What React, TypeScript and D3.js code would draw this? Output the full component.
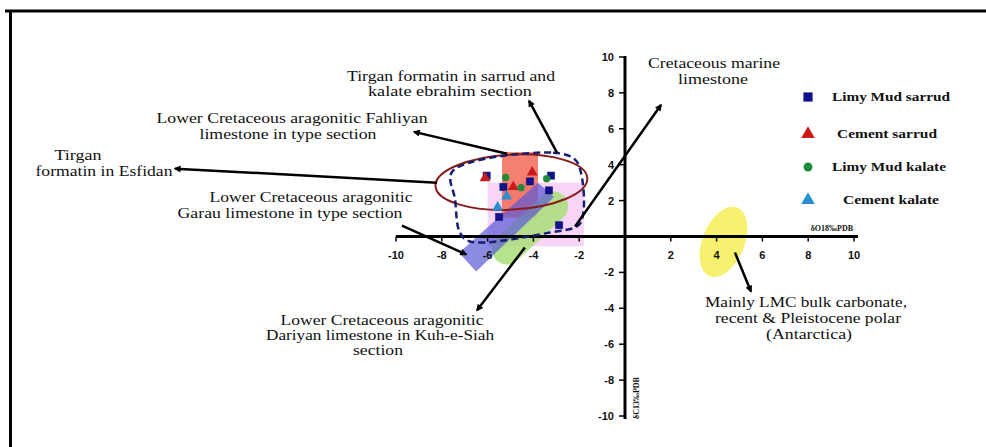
import React from "react";
import * as d3 from "d3";

const W = 986;
const H = 447;

// tick values
const xTicks = [-10, -8, -6, -4, -2, 2, 4, 6, 8, 10];
const yTicks = [-10, -8, -6, -4, -2, 2, 4, 6, 8, 10];

// series (δO18, δC13)
const limyMudSarrud: [number, number][] = [
  [-6.04, 3.39], [-3.23, 3.39], [-4.15, 3.07], [-5.31, 2.76], [-3.32, 2.57], [-5.5, 1.09], [-2.88, 0.63],
];
const cementSarrud: [number, number][] = [[-6.11, 3.26], [-4.05, 3.57], [-4.88, 2.76]];
const limyMudKalate: [number, number][] = [[-5.21, 3.29], [-4.54, 2.72], [-3.42, 3.22]];
const cementKalate: [number, number][] = [[-5.17, 2.24], [-5.56, 1.63]];

const legendItems = [
  { label: "Limy Mud sarrud", shape: "square", color: "#12128f", len: 118 },
  { label: "Cement sarrud", shape: "triangle", color: "#cc1a1a", len: 100 },
  { label: "Limy Mud kalate", shape: "circle", color: "#1f8a3a", len: 114 },
  { label: "Cement kalate", shape: "triangle", color: "#2a8fd0", len: 96 },
];

// field regions (data units)
const fahliyanRect = { x0: -5.37, x1: -3.8, y0: 1.05, y1: 4.7 };
const pinkRect = { x0: -6.0, x1: -1.8, y0: -0.55, y1: 3.0 };
const garauBand: [number, number][] = [[-3.8, 3.0], [-3.1, 2.2], [-6.5, -1.95], [-7.25, -0.9]];
const dariyanBand: [number, number][] = [[-5.15, -0.72], [-3.14, 1.67]];
const tirganDashed: [number, number][] = [
  [-7.55, 3.61], [-3.14, 4.67], [-2.18, 4.28], [-1.88, 3.28], [-1.83, 1.22], [-2.05, 0.61],
  [-3.28, 0.22], [-6.77, -0.28], [-7.21, 0.22], [-7.42, 2.06],
];
const esfidanEllipse = { cx: -4.96, cy: 3.03 };
const antarcticEllipse = { cx: 4.3, cy: -0.3 };

// annotation arrows [from, to] (arrowhead at "to")
const arrows: [number, number, number, number][] = [
  [-2.97, 4.67, -4.19, 7.56],
  [-5.15, 4.61, -9.21, 5.83],
  [-8.21, 3.0, -19.65, 3.78],
  [-9.74, 0.61, -6.94, -1.0],
  [-4.37, -0.61, -6.46, -4.11],
  [-2.18, 0.56, 1.57, 7.33],
  [4.8, -0.89, 5.5, -3.06],
];

// annotation text lines: [text, x center(px), y center(px), width]
const notes: [string, number, number, number][] = [
  ["Tirgan formatin in sarrud and", 451, 76, 208],
  ["kalate  ebrahim section", 450, 91, 164],
  ["Lower Cretaceous aragonitic Fahliyan", 292, 118, 271],
  ["limestone in type section", 288, 134, 177],
  ["Tirgan", 78, 155, 47],
  ["formatin in Esfidan", 104, 171, 137],
  ["Lower Cretaceous aragonitic", 311, 197, 203],
  ["Garau limestone in type section", 290, 213, 225],
  ["Cretaceous marine", 714, 63, 132],
  ["limestone", 713, 79, 70],
  ["Lower Cretaceous aragonitic", 382, 320, 203],
  ["Dariyan limestone in Kuh-e-Siah", 380, 335, 228],
  ["section", 378, 350, 50],
  ["Mainly LMC bulk carbonate,", 806, 302, 202],
  ["recent & Pleistocene polar", 808, 318, 186],
  ["(Antarctica)", 809, 334, 86],
];

export default function App() {
  const x = d3.scaleLinear().domain([-10, 10]).range([396, 854]);
  const y = d3.scaleLinear().domain([-10, 10]).range([416, 57]);
  const x0 = x(0);
  const y0 = y(0);

  const tri = d3.symbol().type(d3.symbolTriangle).size(52)() as string;
  const sq = d3.symbol().type(d3.symbolSquare).size(52)() as string;
  const circ = d3.symbol().type(d3.symbolCircle).size(42)() as string;
  const triL = d3.symbol().type(d3.symbolTriangle).size(80)() as string;
  const sqL = d3.symbol().type(d3.symbolSquare).size(85)() as string;
  const circL = d3.symbol().type(d3.symbolCircle).size(62)() as string;

  const poly = (pts: [number, number][]) =>
    d3.line<[number, number]>().x((d) => x(d[0])).y((d) => y(d[1])).curve(d3.curveLinearClosed)(pts) as string;
  const dashedPath = d3
    .line<[number, number]>()
    .x((d) => x(d[0]))
    .y((d) => y(d[1]))
    .curve(d3.curveCatmullRomClosed.alpha(0.5))(tirganDashed) as string;

  const serif = "'Liberation Serif', 'Times New Roman', serif";
  const sans = "'Liberation Sans', Arial, sans-serif";

  const markerFor = (shape: string, large: boolean) =>
    shape === "square" ? (large ? sqL : sq) : shape === "circle" ? (large ? circL : circ) : large ? triL : tri;

  return (
    <svg width={W} height={H} style={{ position: "absolute", left: 0, top: 0, background: "#fff" }}>
      <defs>
        <marker id="ah" viewBox="0 0 10 10" refX="8" refY="5" markerWidth="3.6" markerHeight="2.8" orient="auto" markerUnits="strokeWidth">
          <path d="M0,0 L10,5 L0,10 Z" fill="#000" />
        </marker>
      </defs>
      <rect x={0} y={0} width={W} height={H} fill="#fff" />
      {/* frame */}
      <line x1={5} x2={W} y1={11} y2={11} stroke="#000" strokeWidth={3} />
      <line x1={10.5} x2={10.5} y1={10} y2={H} stroke="#000" strokeWidth={3} />

      {/* fields */}
      <rect
        x={x(pinkRect.x0)} y={y(pinkRect.y1)}
        width={x(pinkRect.x1) - x(pinkRect.x0)} height={y(pinkRect.y0) - y(pinkRect.y1)}
        fill="#f3b8f0" opacity={0.6}
      />
      <rect
        x={x(fahliyanRect.x0)} y={y(fahliyanRect.y1)}
        width={x(fahliyanRect.x1) - x(fahliyanRect.x0)} height={y(fahliyanRect.y0) - y(fahliyanRect.y1)}
        fill="#f26a58" opacity={0.85}
      />
      <line
        x1={x(dariyanBand[0][0])} y1={y(dariyanBand[0][1])}
        x2={x(dariyanBand[1][0])} y2={y(dariyanBand[1][1])}
        stroke="#a9e07a" strokeWidth={30} strokeLinecap="round" opacity={0.85}
      />
      <path d={poly(garauBand)} fill="#5a5ad6" opacity={0.7} />
      <ellipse
        cx={x(antarcticEllipse.cx)} cy={y(antarcticEllipse.cy)} rx={21} ry={37}
        transform={`rotate(22 ${x(antarcticEllipse.cx)} ${y(antarcticEllipse.cy)})`}
        fill="#f4ee55" opacity={0.85}
      />

      {/* axes */}
      <line x1={x(-10)} x2={x(10) + 4} y1={y0} y2={y0} stroke="#000" strokeWidth={3} />
      <line x1={x0} x2={x0} y1={y(10) - 1} y2={y(-10) + 3} stroke="#000" strokeWidth={3} />
      {xTicks.map((t) => (
        <g key={"xt" + t}>
          <line x1={x(t)} x2={x(t)} y1={y0} y2={y0 + 5} stroke="#000" strokeWidth={1.5} />
          <text x={x(t)} y={y0 + 22} textAnchor="middle" fontFamily={sans} fontWeight="bold" fontSize={11} fill="#111">
            {t}
          </text>
        </g>
      ))}
      {yTicks.map((t) => (
        <g key={"yt" + t}>
          <line x1={x0 - 6} x2={x0} y1={y(t)} y2={y(t)} stroke="#000" strokeWidth={1.5} />
          <text x={x0 - 11} y={y(t) + 4} textAnchor="end" fontFamily={sans} fontWeight="bold" fontSize={11} fill="#111">
            {t}
          </text>
        </g>
      ))}
      <text x={853} y={231} textAnchor="end" fontFamily={serif} fontWeight="bold" fontSize={8} fill="#111">
        δO18‰PDB
      </text>
      <text
        x={0} y={0} transform={`translate(${x0 + 14},${y(-10) + 3}) rotate(-90)`}
        fontFamily={serif} fontWeight="bold" fontSize={8} fill="#111"
      >
        δC13‰PDB
      </text>

      {/* outlines */}
      <ellipse
        cx={x(esfidanEllipse.cx)} cy={y(esfidanEllipse.cy)} rx={76} ry={27.5}
        transform={`rotate(-3 ${x(esfidanEllipse.cx)} ${y(esfidanEllipse.cy)})`}
        fill="none" stroke="#8a1c1c" strokeWidth={2}
      />
      <path d={dashedPath} fill="none" stroke="#15206e" strokeWidth={2.5} strokeDasharray="7 4" />

      {/* arrows */}
      {arrows.map((a, i) => (
        <line key={"ar" + i} x1={x(a[0])} y1={y(a[1])} x2={x(a[2])} y2={y(a[3])} stroke="#000" strokeWidth={2.5} markerEnd="url(#ah)" />
      ))}

      {/* points */}
      {limyMudSarrud.map((d, i) => (
        <path key={"lms" + i} d={sq} transform={`translate(${x(d[0])},${y(d[1])})`} fill="#12128f" stroke="#0a0a60" strokeWidth={0.5} />
      ))}
      {cementSarrud.map((d, i) => (
        <path key={"cs" + i} d={tri} transform={`translate(${x(d[0])},${y(d[1])})`} fill="#cc1a1a" />
      ))}
      {limyMudKalate.map((d, i) => (
        <path key={"lmk" + i} d={circ} transform={`translate(${x(d[0])},${y(d[1])})`} fill="#1f8a3a" />
      ))}
      {cementKalate.map((d, i) => (
        <path key={"ck" + i} d={tri} transform={`translate(${x(d[0])},${y(d[1])})`} fill="#2a8fd0" />
      ))}

      {/* annotations */}
      {notes.map((n, i) => (
        <text
          key={"n" + i} x={n[1] - n[3] / 2} y={n[2] + 5} textLength={n[3]} lengthAdjust="spacingAndGlyphs"
          fontFamily={serif} fontSize={14.5} fill="#111"
        >
          {n[0]}
        </text>
      ))}

      {/* legend */}
      {legendItems.map((it, i) => {
        const ly = [97, 134, 167, 200][i];
        const tx = [832, 837, 832, 843][i];
        return (
          <g key={"lg" + i}>
            <path d={markerFor(it.shape, true)} transform={`translate(808,${ly})`} fill={it.color} />
            <text x={tx} y={ly + 4} textLength={it.len} lengthAdjust="spacingAndGlyphs" fontFamily={serif} fontWeight="bold" fontSize={13} fill="#111">
              {it.label}
            </text>
          </g>
        );
      })}
    </svg>
  );
}
